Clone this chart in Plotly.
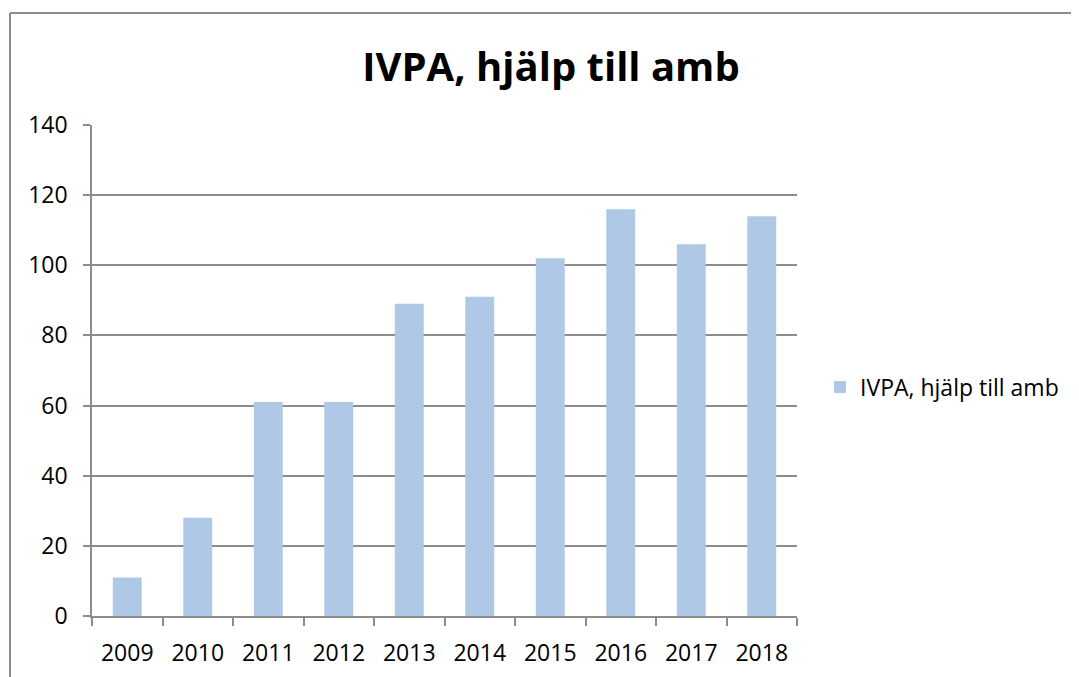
import plotly.graph_objects as go

years = ["2009", "2010", "2011", "2012", "2013", "2014", "2015", "2016", "2017", "2018"]
values = [11, 28, 61, 61, 89, 91, 102, 116, 106, 114]
series_name = "IVPA, hjälp till amb"
title_text = "IVPA, hjälp till amb"

OFF = 8  # default page body margin
W, H = 1079 - OFF, 677 - OFF
L = 92 - OFF
T = 125 - OFF
R = W - (797 - OFF)
B = H - (616 - OFF)
pw, ph = W - L - R, H - T - B

fig = go.Figure()
fig.add_trace(go.Bar(x=years, y=values, name=series_name, marker_color="#AEC8E6",
                     marker_line_width=0, showlegend=True))

axis_col = "#8C8C8C"
font = "Open Sans"
fig.update_layout(
    width=W, height=H,
    margin=dict(l=L, r=R, t=T, b=B, autoexpand=False),
    paper_bgcolor="white", plot_bgcolor="white",
    bargap=0.59,
    font=dict(family=font, color="black", size=23),
    title=dict(text=title_text, x=(551 - OFF) / W, xanchor="center", y=1 - (67 - OFF) / H, yanchor="middle",
               font=dict(family=font, size=40, color="black", weight="bold")),
    showlegend=True,
    legend=dict(x=(820 - 92) / pw, xanchor="left", y=(616 - 387) / ph, yanchor="middle",
                font=dict(family=font, size=23, color="black"), bgcolor="rgba(0,0,0,0)",
                itemwidth=30),
    xaxis=dict(type="category", showline=True, linecolor=axis_col, linewidth=1.5,
               ticks="outside", tickson="boundaries", ticklen=8, tickcolor=axis_col, tickwidth=1.5,
               showgrid=False, tickfont=dict(size=23), ticklabelstandoff=16, automargin=False),
    yaxis=dict(range=[0, 140], dtick=20, showline=True, linecolor=axis_col, linewidth=1.5,
               ticks="outside", ticklen=7, tickcolor=axis_col, tickwidth=1.5,
               showgrid=True, gridcolor=axis_col, gridwidth=1.5, zeroline=False,
               tickfont=dict(size=23), ticklabelstandoff=11, automargin=False),
)

bx = (10 - 92) / pw
by = 1 + (125 - 13) / ph
fig.add_shape(type="line", xref="paper", yref="paper", x0=bx, x1=bx, y0=-0.5, y1=by,
              line=dict(color="#8C8C8C", width=2))
fig.add_shape(type="line", xref="paper", yref="paper", x0=bx, x1=2, y0=by, y1=by,
              line=dict(color="#8C8C8C", width=2))

fig.write_html("out.html")
